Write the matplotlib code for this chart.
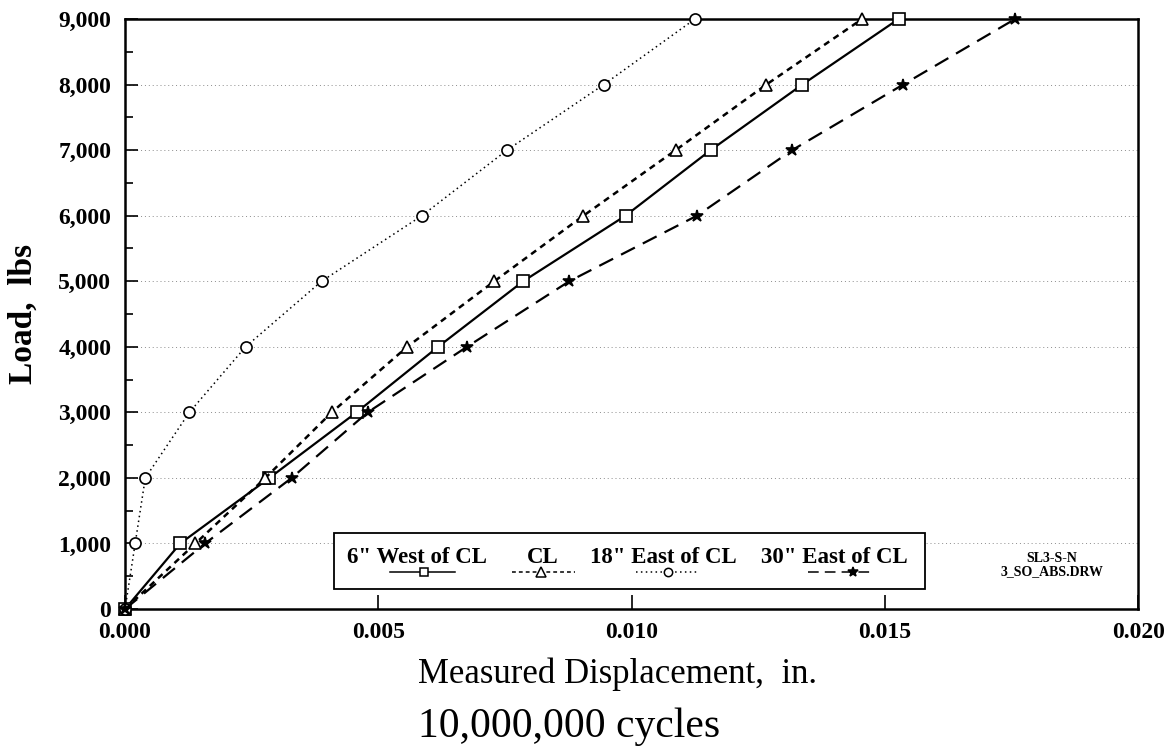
import matplotlib
matplotlib.use('Agg')
import matplotlib.pyplot as plt
from matplotlib.patches import Rectangle
from matplotlib.ticker import MultipleLocator, FuncFormatter

plt.rcParams['font.family'] = ['Liberation Serif', 'DejaVu Serif']

# load steps (lbs) and measured displacement (in.) at each gauge
load = [0, 1000, 2000, 3000, 4000, 5000, 6000, 7000, 8000, 9000]
west6 = [0, 0.00109, 0.00285, 0.00457, 0.00618, 0.00786, 0.00988, 0.01156, 0.01337, 0.01527]
cl = [0, 0.00139, 0.00277, 0.00408, 0.00557, 0.00729, 0.00905, 0.01087, 0.01266, 0.01455]
east18 = [0, 0.0002, 0.0004, 0.00127, 0.00238, 0.00388, 0.00586, 0.00754, 0.00945, 0.01125]
east30 = [0, 0.00158, 0.00329, 0.00479, 0.00675, 0.00877, 0.01129, 0.01317, 0.01536, 0.01757]

labels = ['6" West of CL', 'CL', '18" East of CL', '30" East of CL']

fig = plt.figure(figsize=(11.73, 7.46), dpi=100)
ax = fig.add_axes([0.1066, 0.1836, 0.8637, 0.7909])

# dashes / markers for each series
styles = [
    dict(ls='-', marker='s', ms=8, mfc='white', lw=1.6),
    dict(ls=(0, (2.5, 2.0)), marker='^', ms=9, mfc='white', lw=1.8),
    dict(ls=(0, (1, 2.2)), marker='o', ms=8, mfc='white', lw=1.1),
    dict(ls=(0, (7, 4)), marker='*', ms=9, mfc='black', lw=1.6),
]
series = [west6, cl, east18, east30]

for s, st in zip(series, styles):
    ax.plot(s, load, color='k', mec='k', mew=1.2, clip_on=False, zorder=3, **st)

ax.set_xlim(0, 0.020)
ax.set_ylim(0, 9000)
ax.xaxis.set_major_locator(MultipleLocator(0.005))
ax.yaxis.set_major_locator(MultipleLocator(1000))
ax.yaxis.set_minor_locator(MultipleLocator(500))
ax.xaxis.set_major_formatter(FuncFormatter(lambda v, p: '%.3f' % v))
ax.yaxis.set_major_formatter(FuncFormatter(lambda v, p: '{:,.0f}'.format(v)))
ax.tick_params(axis='both', which='both', direction='in', width=1.2)
ax.tick_params(axis='x', which='major', length=10, pad=9, labelsize=17)
ax.tick_params(axis='y', which='major', length=9, pad=10, labelsize=17)
ax.tick_params(axis='y', which='minor', length=6)
for lab in ax.get_xticklabels() + ax.get_yticklabels():
    lab.set_fontweight('bold')
for sp in ax.spines.values():
    sp.set_linewidth(1.8)

ax.grid(axis='y', color='0.55', ls=(0, (1, 3)), lw=0.7)
ax.set_axisbelow(True)

ax.set_ylabel('Load,  lbs', fontsize=24, fontweight='bold', va='center')
ax.yaxis.set_label_coords(-0.10, 0.5)
ax.set_xlabel('Measured Displacement,  in.', fontsize=25, ha='left', va='baseline')
ax.xaxis.set_label_coords(0.289, -0.125)
fig.text(418 / 1173, 1 - 737 / 746, '10,000,000 cycles', fontsize=30, ha='left', va='baseline')

# legend box: labels above, short line samples below
ax.add_patch(Rectangle((0.206, 0.034), 0.5834, 0.095, transform=ax.transAxes,
                       facecolor='white', edgecolor='k', lw=1.3, zorder=5))
text_x = [0.2192, 0.3968, 0.4590, 0.6278]
sample_x = [(0.2616, 0.3258, 0.2950), (0.3820, 0.4442, 0.4107),
            (0.5044, 0.5666, 0.5360), (0.6742, 0.7364, 0.7187)]
for lab, tx, (x0, x1, xm), st in zip(labels, text_x, sample_x, styles):
    ax.text(tx, 0.078, lab, transform=ax.transAxes, fontsize=16.5, fontweight='bold',
            ha='left', va='baseline', zorder=6)
    ax.plot([x0, x1], [0.0627, 0.0627], transform=ax.transAxes, color='k',
            ls=st['ls'], lw=1.1, zorder=6, clip_on=False)
    ax.plot([xm], [0.0627], transform=ax.transAxes, color='k', marker=st['marker'],
            ms=st['ms'] - 2, mfc=st['mfc'], mec='k', mew=1.1, zorder=7, clip_on=False)

ax.text(0.915, 0.075, 'SL3-S-N\n3_SO_ABS.DRW', transform=ax.transAxes, fontsize=10,
        fontweight='bold', ha='center', va='center', linespacing=1.0)

fig.savefig('out.png', dpi=100)
